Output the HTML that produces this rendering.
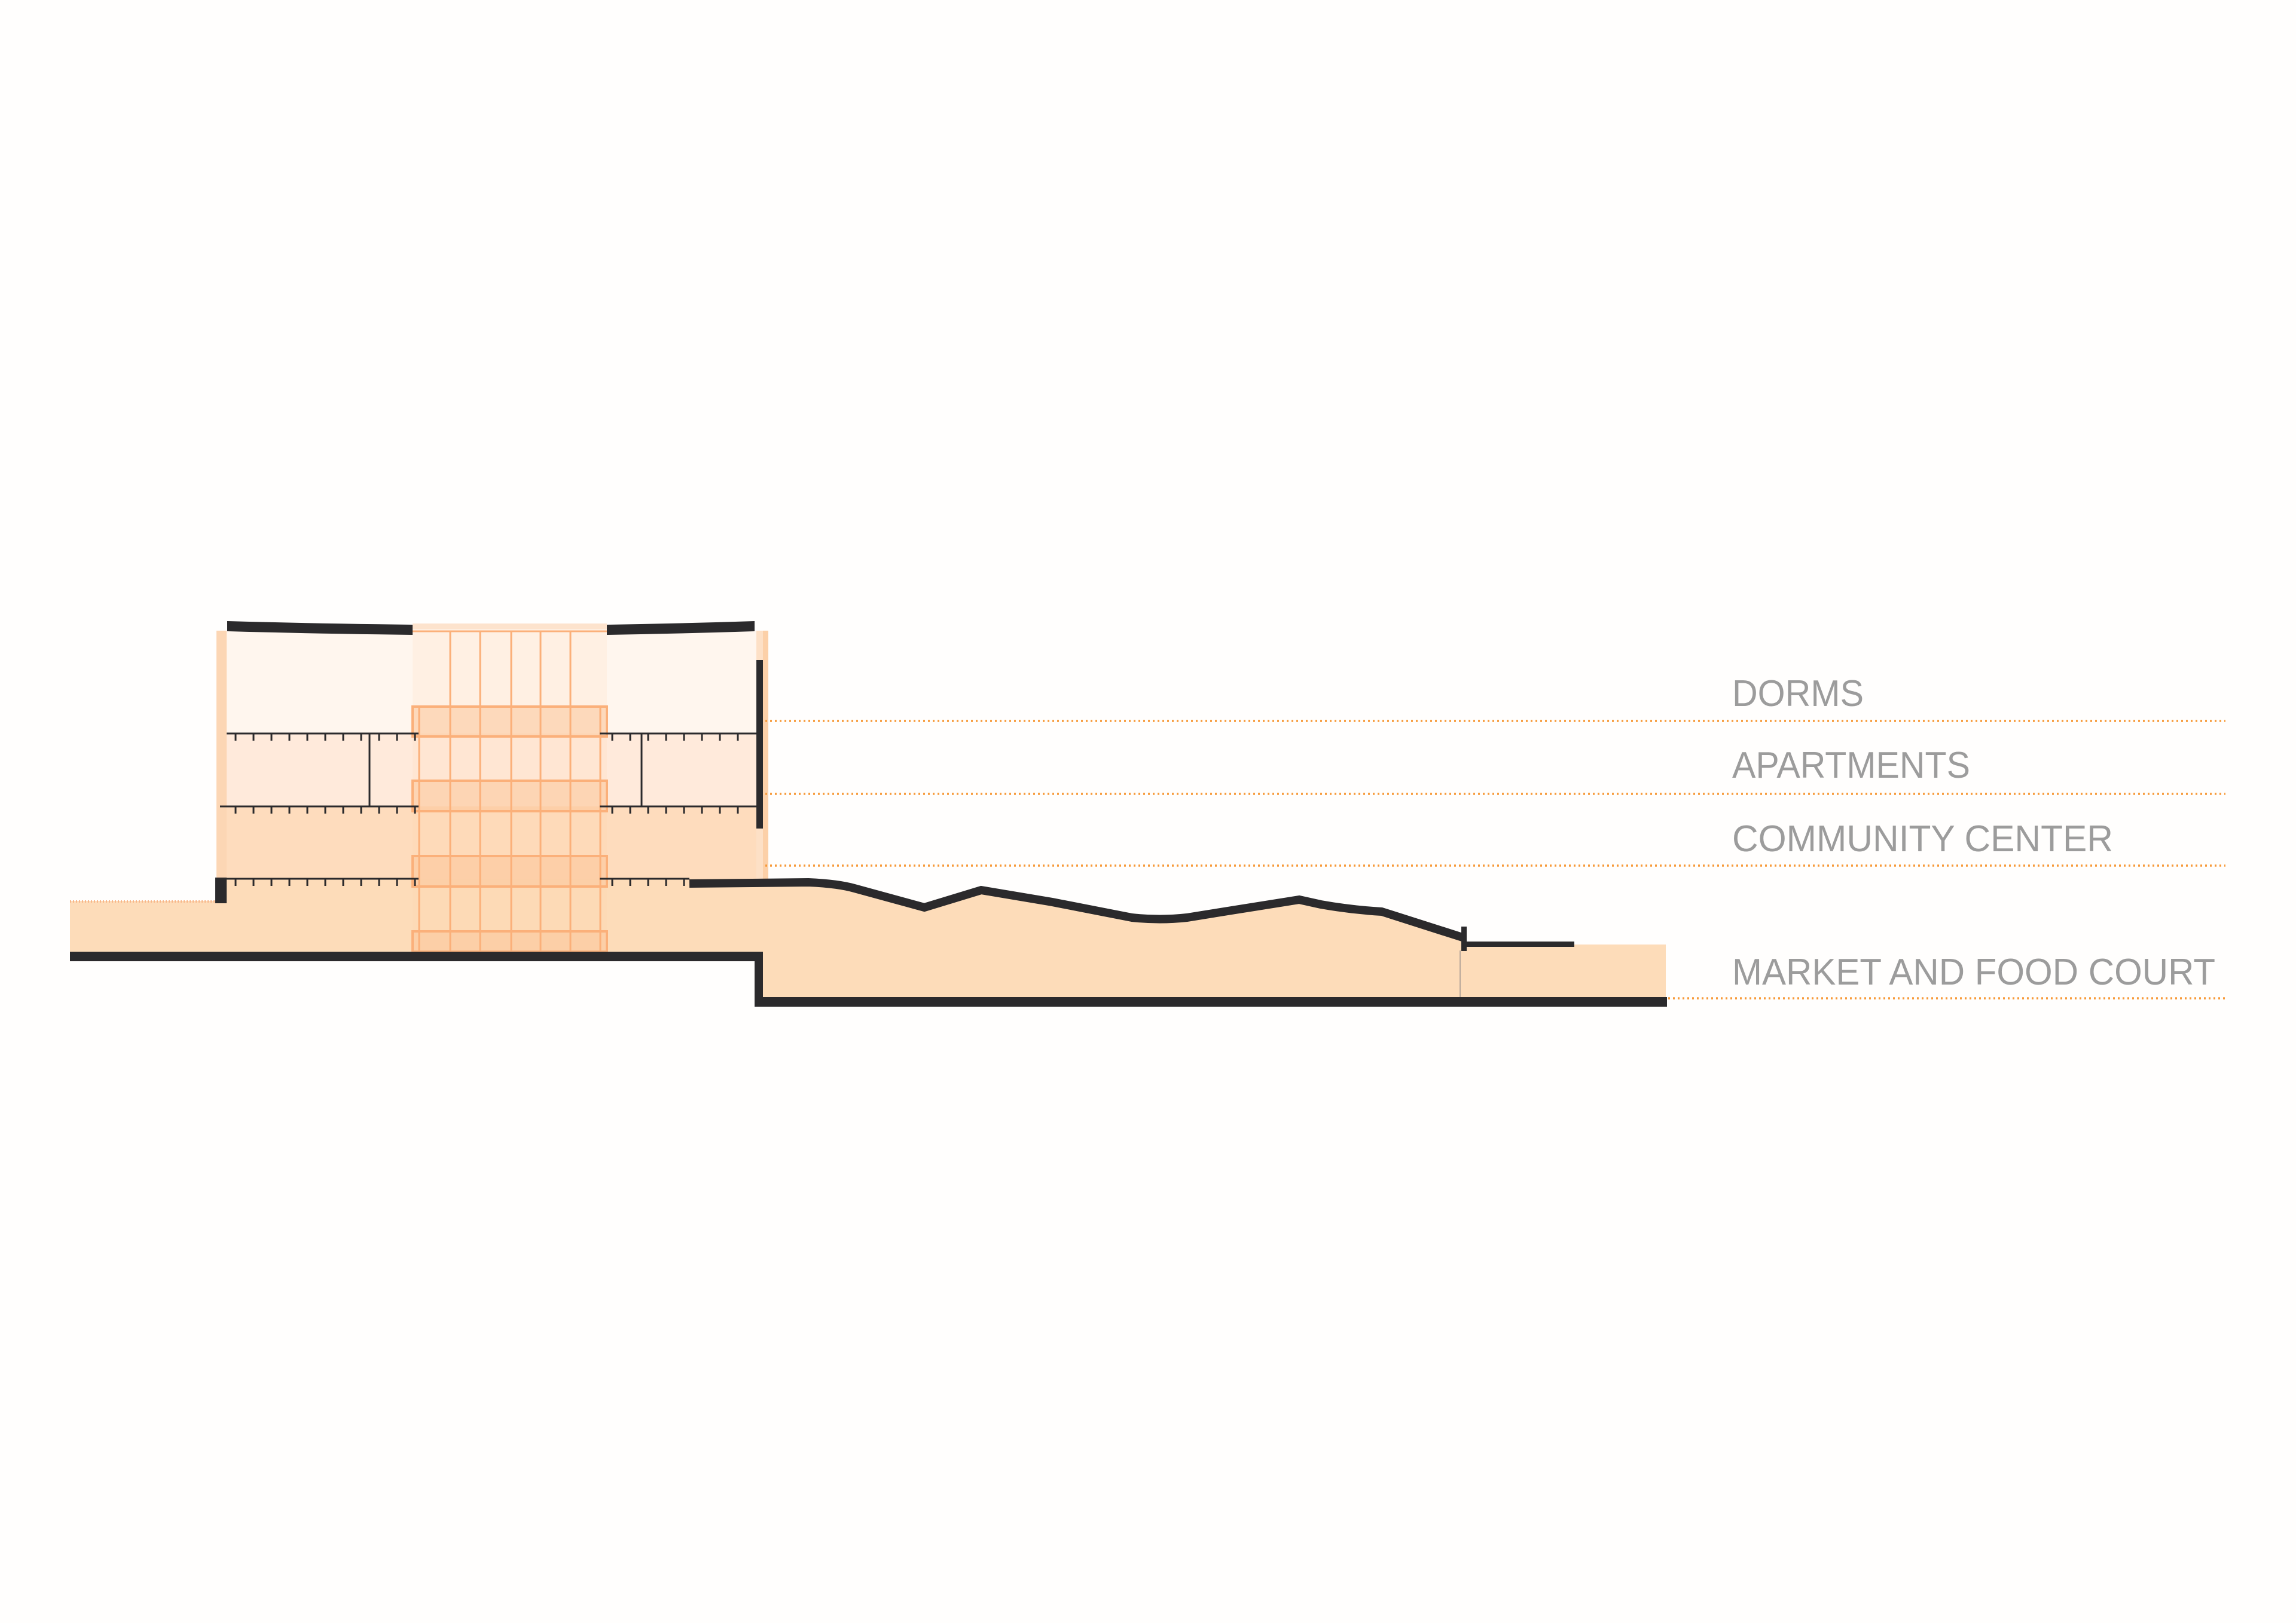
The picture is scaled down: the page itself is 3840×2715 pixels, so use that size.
<!DOCTYPE html>
<html><head><meta charset="utf-8"><style>html,body{margin:0;padding:0;background:#fffefd}svg{display:block}</style></head>
<body>
<svg width="3840" height="2715" viewBox="0 0 3840 2715" xmlns="http://www.w3.org/2000/svg">
<rect width="3840" height="2715" fill="#fffefd"/>
<rect x="379" y="1055" width="886" height="172" fill="#fff6ee"/>
<rect x="379" y="1227" width="886" height="122" fill="#ffeadb"/>
<rect x="379" y="1349" width="886" height="121" fill="#fedcbd"/>
<rect x="362" y="1470" width="903" height="122" fill="#fddcb9"/>
<rect x="117" y="1507" width="250" height="85" fill="#fddcb9"/>
<line x1="117" y1="1508" x2="360" y2="1508" stroke="#f7b68a" stroke-width="4" stroke-dasharray="2 3"/>
<rect x="362" y="1055" width="17" height="415" fill="#fcd6b4"/>
<rect x="1265" y="1055" width="20" height="420" fill="#fde0c6"/>
<rect x="1276" y="1055" width="9" height="415" fill="#fcd0a8"/>
<path d="M1153 1478 L1352 1476 Q1400 1478 1429 1486 L1546 1518 L1641 1489 L1760 1509 L1893 1535 Q1940 1540 1985 1535 L2066 1522 L2173 1505 L2209 1513 Q2260 1522 2311 1525 L2449 1569 L2449 1580 L2786 1580 L2786 1668 L1270 1668 L1270 1592 L1265 1592 L1265 1478 Z" fill="#fddcb9"/>
<rect x="690" y="1045" width="325" height="547" fill="#fccfa8" fill-opacity="0.15"/>
<g fill="#fcc79a" fill-opacity="0.55" stroke="#fbb07a" stroke-width="4">
<rect x="690" y="1182" width="325" height="50"/>
<rect x="690" y="1306" width="325" height="51"/>
<rect x="690" y="1432" width="325" height="51"/>
<rect x="690" y="1558" width="325" height="34"/>
</g>
<g stroke="#fbb07a" stroke-width="3">
<line x1="701" y1="1182" x2="701" y2="1592"/><line x1="1004" y1="1182" x2="1004" y2="1592"/>
<line x1="753" y1="1055" x2="753" y2="1592"/><line x1="803" y1="1055" x2="803" y2="1592"/>
<line x1="855" y1="1055" x2="855" y2="1592"/><line x1="904" y1="1055" x2="904" y2="1592"/>
<line x1="954" y1="1055" x2="954" y2="1592"/>
<line x1="690" y1="1056" x2="1015" y2="1056"/>
</g>
<rect x="690" y="1043" width="325" height="10" fill="#fde3cd"/>
<path d="M380 1039 Q520 1043 690 1045 L690 1062 Q520 1060 380 1056 Z" fill="#2b2a2c"/>
<path d="M1015 1045 Q1140 1043 1262 1039 L1262 1056 Q1140 1060 1015 1062 Z" fill="#2b2a2c"/>
<g stroke="#2b2a2c" stroke-width="3">
<line x1="379" y1="1227" x2="700" y2="1227"/><line x1="1003" y1="1227" x2="1265" y2="1227"/>
<line x1="368" y1="1349" x2="700" y2="1349"/><line x1="1003" y1="1349" x2="1265" y2="1349"/>
<line x1="379" y1="1470" x2="700" y2="1470"/><line x1="1003" y1="1470" x2="1153" y2="1470"/>
<line x1="618" y1="1227" x2="618" y2="1349"/><line x1="1073" y1="1227" x2="1073" y2="1349"/>
</g>
<g stroke="#2b2a2c" stroke-width="3">
<path d="M394 1227v12M424 1227v12M454 1227v12M484 1227v12M514 1227v12M544 1227v12M574 1227v12M604 1227v12M634 1227v12M664 1227v12M694 1227v12M1024 1227v12M1054 1227v12M1084 1227v12M1114 1227v12M1144 1227v12M1174 1227v12M1204 1227v12M1234 1227v12"/>
<path d="M394 1349v12M424 1349v12M454 1349v12M484 1349v12M514 1349v12M544 1349v12M574 1349v12M604 1349v12M634 1349v12M664 1349v12M694 1349v12M1024 1349v12M1054 1349v12M1084 1349v12M1114 1349v12M1144 1349v12M1174 1349v12M1204 1349v12M1234 1349v12"/>
<path d="M394 1470v12M424 1470v12M454 1470v12M484 1470v12M514 1470v12M544 1470v12M574 1470v12M604 1470v12M634 1470v12M664 1470v12M694 1470v12M1024 1470v12M1054 1470v12M1084 1470v12M1114 1470v12M1144 1470v12"/>
</g>
<rect x="1265" y="1104" width="11" height="282" fill="#2b2a2c"/>
<rect x="360" y="1468" width="19" height="43" fill="#2b2a2c"/>
<path d="M117 1592 L1276 1592 L1276 1608 L117 1608 Z" fill="#2b2a2c"/>
<path d="M1262 1592 L1276 1592 L1276 1668 L2788 1668 L2788 1684 L1262 1684 Z" fill="#2b2a2c"/>
<path d="M1153 1478 L1352 1476 Q1400 1478 1429 1486 L1546 1518 L1641 1489 L1760 1509 L1893 1535 Q1940 1540 1985 1535 L2066 1522 L2173 1505 L2209 1513 Q2260 1522 2311 1525 L2449 1569" fill="none" stroke="#2b2a2c" stroke-width="14" stroke-linejoin="miter"/>
<rect x="2444" y="1550" width="9" height="41" fill="#2b2a2c"/>
<rect x="2449" y="1575" width="184" height="9" fill="#2b2a2c"/>
<line x1="2442" y1="1590" x2="2442" y2="1668" stroke="#b9a89a" stroke-width="2"/>
<g stroke="#f79a3a" stroke-width="3.5" stroke-dasharray="3 5">
<line x1="1280" y1="1206" x2="3722" y2="1206"/>
<line x1="1280" y1="1328" x2="3722" y2="1328"/>
<line x1="1280" y1="1448" x2="3722" y2="1448"/>
<line x1="2790" y1="1670" x2="3722" y2="1670"/>
</g>
<g font-family="Liberation Sans, sans-serif" font-size="62" fill="#9c9c9c">
<text x="2897" y="1181" textLength="220" lengthAdjust="spacingAndGlyphs">DORMS</text>
<text x="2897" y="1301" textLength="398" lengthAdjust="spacingAndGlyphs">APARTMENTS</text>
<text x="2897" y="1424" textLength="637" lengthAdjust="spacingAndGlyphs">COMMUNITY CENTER</text>
<text x="2897" y="1647" textLength="808" lengthAdjust="spacingAndGlyphs">MARKET AND FOOD COURT</text>
</g>
</svg>
</body></html>
